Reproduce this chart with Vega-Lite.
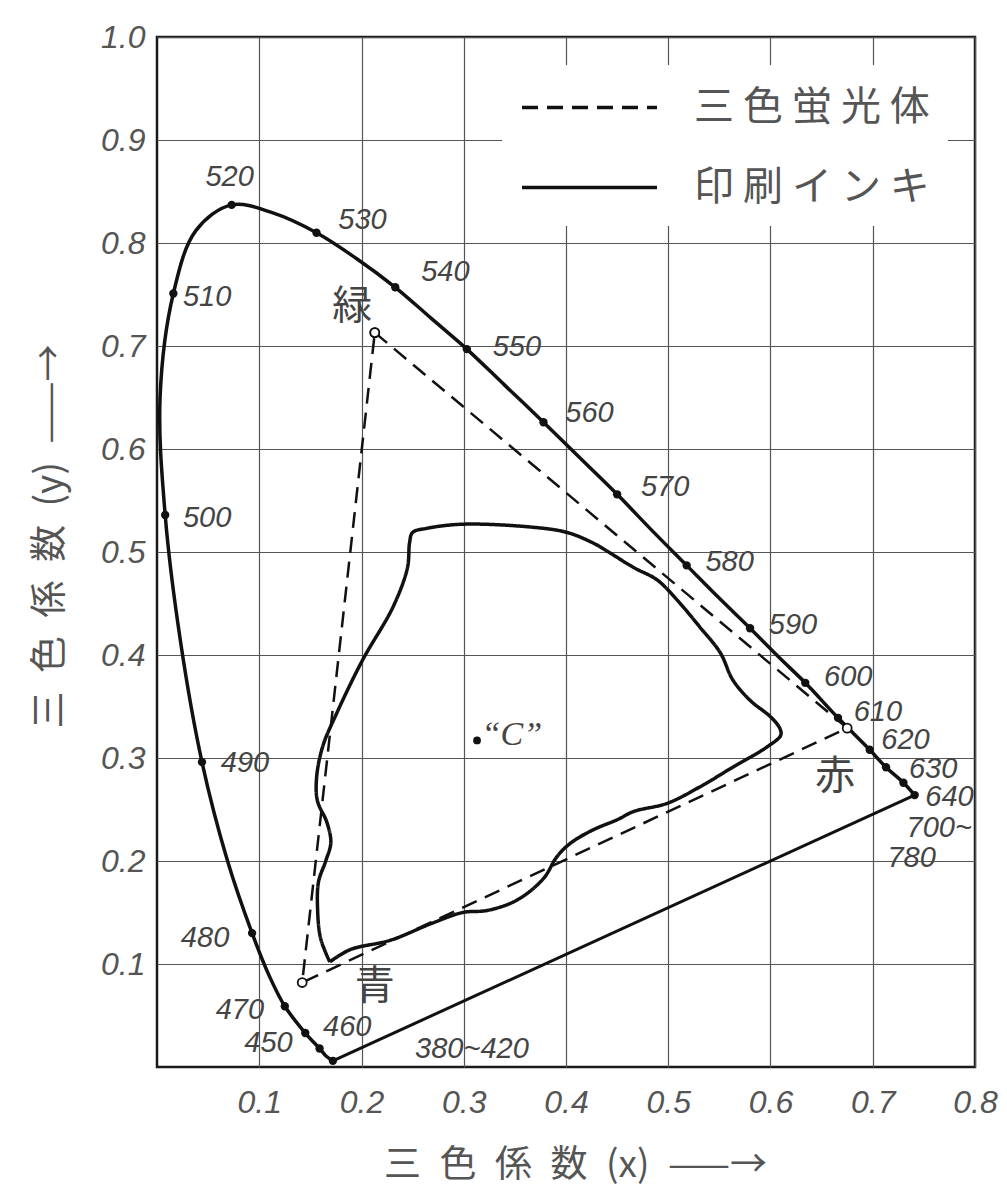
{
  "$schema": "https://vega.github.io/schema/vega-lite/v6.json",
  "width": 818,
  "height": 1030,
  "autosize": {"type": "none"},
  "padding": {"left": 157, "top": 37, "right": 32, "bottom": 133},
  "background": "white",
  "config": {"view": {"stroke": "#1a1a1a", "strokeWidth": 2.5}},
  "datasets": {
    "locus": [
      {"ord": 1, "x": 0.172, "y": 0.006}, {"ord": 2, "x": 0.165, "y": 0.011}, {"ord": 3, "x": 0.159, "y": 0.018},
      {"ord": 4, "x": 0.145, "y": 0.033}, {"ord": 5, "x": 0.125, "y": 0.059}, {"ord": 6, "x": 0.110, "y": 0.088},
      {"ord": 7, "x": 0.093, "y": 0.130}, {"ord": 8, "x": 0.069, "y": 0.200}, {"ord": 9, "x": 0.044, "y": 0.296},
      {"ord": 10, "x": 0.023, "y": 0.413}, {"ord": 11, "x": 0.008, "y": 0.536}, {"ord": 12, "x": 0.003, "y": 0.650},
      {"ord": 13, "x": 0.016, "y": 0.751}, {"ord": 14, "x": 0.038, "y": 0.812}, {"ord": 15, "x": 0.073, "y": 0.837},
      {"ord": 16, "x": 0.114, "y": 0.829}, {"ord": 17, "x": 0.156, "y": 0.810}, {"ord": 18, "x": 0.195, "y": 0.785},
      {"ord": 19, "x": 0.233, "y": 0.757}, {"ord": 20, "x": 0.268, "y": 0.727}, {"ord": 21, "x": 0.303, "y": 0.697},
      {"ord": 22, "x": 0.340, "y": 0.662}, {"ord": 23, "x": 0.378, "y": 0.626}, {"ord": 24, "x": 0.414, "y": 0.591},
      {"ord": 25, "x": 0.450, "y": 0.556}, {"ord": 26, "x": 0.484, "y": 0.521}, {"ord": 27, "x": 0.518, "y": 0.487},
      {"ord": 28, "x": 0.549, "y": 0.456}, {"ord": 29, "x": 0.580, "y": 0.426}, {"ord": 30, "x": 0.608, "y": 0.398},
      {"ord": 31, "x": 0.634, "y": 0.373}, {"ord": 32, "x": 0.666, "y": 0.339}, {"ord": 33, "x": 0.697, "y": 0.308},
      {"ord": 34, "x": 0.713, "y": 0.291}, {"ord": 35, "x": 0.730, "y": 0.276}, {"ord": 36, "x": 0.741, "y": 0.264}
    ],
    "purple": [
      {"ord": 1, "x": 0.741, "y": 0.264}, {"ord": 2, "x": 0.172, "y": 0.006}
    ],
    "dots": [
      {"wl": "380~420", "x": 0.172, "y": 0.006}, {"wl": "450", "x": 0.159, "y": 0.018},
      {"wl": "460", "x": 0.145, "y": 0.033}, {"wl": "470", "x": 0.125, "y": 0.059},
      {"wl": "480", "x": 0.093, "y": 0.130}, {"wl": "490", "x": 0.044, "y": 0.296},
      {"wl": "500", "x": 0.008, "y": 0.536}, {"wl": "510", "x": 0.016, "y": 0.751},
      {"wl": "520", "x": 0.073, "y": 0.837}, {"wl": "530", "x": 0.156, "y": 0.810},
      {"wl": "540", "x": 0.233, "y": 0.757}, {"wl": "550", "x": 0.303, "y": 0.697},
      {"wl": "560", "x": 0.378, "y": 0.626}, {"wl": "570", "x": 0.450, "y": 0.556},
      {"wl": "580", "x": 0.518, "y": 0.487}, {"wl": "590", "x": 0.580, "y": 0.426},
      {"wl": "600", "x": 0.634, "y": 0.373}, {"wl": "610", "x": 0.666, "y": 0.339},
      {"wl": "620", "x": 0.697, "y": 0.308}, {"wl": "630", "x": 0.713, "y": 0.291},
      {"wl": "640", "x": 0.730, "y": 0.276}, {"wl": "700~780", "x": 0.741, "y": 0.264}
    ],
    "wlabels": [
      {"text": "380~420", "x": 0.308, "y": 0.017}, {"text": "450", "x": 0.109, "y": 0.023},
      {"text": "460", "x": 0.186, "y": 0.039}, {"text": "470", "x": 0.081, "y": 0.055},
      {"text": "480", "x": 0.047, "y": 0.125}, {"text": "490", "x": 0.086, "y": 0.295},
      {"text": "500", "x": 0.049, "y": 0.533}, {"text": "510", "x": 0.049, "y": 0.748},
      {"text": "520", "x": 0.071, "y": 0.864}, {"text": "530", "x": 0.201, "y": 0.822},
      {"text": "540", "x": 0.282, "y": 0.772}, {"text": "550", "x": 0.352, "y": 0.699},
      {"text": "560", "x": 0.423, "y": 0.635}, {"text": "570", "x": 0.497, "y": 0.563},
      {"text": "580", "x": 0.560, "y": 0.490}, {"text": "590", "x": 0.622, "y": 0.429},
      {"text": "600", "x": 0.676, "y": 0.379}, {"text": "610", "x": 0.705, "y": 0.345},
      {"text": "620", "x": 0.732, "y": 0.317}, {"text": "630", "x": 0.759, "y": 0.289},
      {"text": "640", "x": 0.775, "y": 0.262}, {"text": "700~", "x": 0.765, "y": 0.232},
      {"text": "780", "x": 0.738, "y": 0.203}
    ],
    "tri": [
      {"series": "三色蛍光体", "ord": 1, "x": 0.213, "y": 0.713},
      {"series": "三色蛍光体", "ord": 2, "x": 0.675, "y": 0.329},
      {"series": "三色蛍光体", "ord": 3, "x": 0.142, "y": 0.082},
      {"series": "三色蛍光体", "ord": 4, "x": 0.213, "y": 0.713}
    ],
    "ink": [
      {"series": "印刷インキ", "ord": 1, "x": 0.169, "y": 0.102},
      {"series": "印刷インキ", "ord": 2, "x": 0.160, "y": 0.125},
      {"series": "印刷インキ", "ord": 3, "x": 0.157, "y": 0.155},
      {"series": "印刷インキ", "ord": 4, "x": 0.158, "y": 0.180},
      {"series": "印刷インキ", "ord": 5, "x": 0.165, "y": 0.200},
      {"series": "印刷インキ", "ord": 6, "x": 0.170, "y": 0.218},
      {"series": "印刷インキ", "ord": 7, "x": 0.166, "y": 0.238},
      {"series": "印刷インキ", "ord": 8, "x": 0.157, "y": 0.258},
      {"series": "印刷インキ", "ord": 9, "x": 0.156, "y": 0.280},
      {"series": "印刷インキ", "ord": 10, "x": 0.162, "y": 0.311},
      {"series": "印刷インキ", "ord": 11, "x": 0.176, "y": 0.344},
      {"series": "印刷インキ", "ord": 12, "x": 0.201, "y": 0.395},
      {"series": "印刷インキ", "ord": 13, "x": 0.231, "y": 0.447},
      {"series": "印刷インキ", "ord": 14, "x": 0.245, "y": 0.485},
      {"series": "印刷インキ", "ord": 15, "x": 0.247, "y": 0.509},
      {"series": "印刷インキ", "ord": 16, "x": 0.250, "y": 0.519},
      {"series": "印刷インキ", "ord": 17, "x": 0.264, "y": 0.523},
      {"series": "印刷インキ", "ord": 18, "x": 0.299, "y": 0.527},
      {"series": "印刷インキ", "ord": 19, "x": 0.368, "y": 0.524},
      {"series": "印刷インキ", "ord": 20, "x": 0.401, "y": 0.519},
      {"series": "印刷インキ", "ord": 21, "x": 0.426, "y": 0.509},
      {"series": "印刷インキ", "ord": 22, "x": 0.440, "y": 0.501},
      {"series": "印刷インキ", "ord": 23, "x": 0.466, "y": 0.485},
      {"series": "印刷インキ", "ord": 24, "x": 0.489, "y": 0.473},
      {"series": "印刷インキ", "ord": 25, "x": 0.509, "y": 0.453},
      {"series": "印刷インキ", "ord": 26, "x": 0.531, "y": 0.427},
      {"series": "印刷インキ", "ord": 27, "x": 0.551, "y": 0.402},
      {"series": "印刷インキ", "ord": 28, "x": 0.563, "y": 0.376},
      {"series": "印刷インキ", "ord": 29, "x": 0.580, "y": 0.356},
      {"series": "印刷インキ", "ord": 30, "x": 0.600, "y": 0.340},
      {"series": "印刷インキ", "ord": 31, "x": 0.609, "y": 0.329},
      {"series": "印刷インキ", "ord": 32, "x": 0.610, "y": 0.322},
      {"series": "印刷インキ", "ord": 33, "x": 0.597, "y": 0.311},
      {"series": "印刷インキ", "ord": 34, "x": 0.563, "y": 0.291},
      {"series": "印刷インキ", "ord": 35, "x": 0.531, "y": 0.272},
      {"series": "印刷インキ", "ord": 36, "x": 0.499, "y": 0.256},
      {"series": "印刷インキ", "ord": 37, "x": 0.466, "y": 0.248},
      {"series": "印刷インキ", "ord": 38, "x": 0.450, "y": 0.240},
      {"series": "印刷インキ", "ord": 39, "x": 0.426, "y": 0.230},
      {"series": "印刷インキ", "ord": 40, "x": 0.404, "y": 0.217},
      {"series": "印刷インキ", "ord": 41, "x": 0.391, "y": 0.204},
      {"series": "印刷インキ", "ord": 42, "x": 0.378, "y": 0.183},
      {"series": "印刷インキ", "ord": 43, "x": 0.352, "y": 0.162},
      {"series": "印刷インキ", "ord": 44, "x": 0.323, "y": 0.152},
      {"series": "印刷インキ", "ord": 45, "x": 0.299, "y": 0.150},
      {"series": "印刷インキ", "ord": 46, "x": 0.270, "y": 0.140},
      {"series": "印刷インキ", "ord": 47, "x": 0.228, "y": 0.123},
      {"series": "印刷インキ", "ord": 48, "x": 0.189, "y": 0.114},
      {"series": "印刷インキ", "ord": 49, "x": 0.169, "y": 0.102}
    ],
    "names": [
      {"text": "緑", "x": 0.191, "y": 0.738},
      {"text": "青", "x": 0.213, "y": 0.078},
      {"text": "赤", "x": 0.663, "y": 0.282}
    ],
    "cpoint": [{"x": 0.313, "y": 0.317}],
    "clabel": [{"text": "“C”", "x": 0.347, "y": 0.322}]
  },
  "encoding": {
    "x": {
      "field": "x", "type": "quantitative",
      "scale": {"domain": [0, 0.8], "nice": false, "zero": false},
      "axis": {
        "values": [0.1, 0.2, 0.3, 0.4, 0.5, 0.6, 0.7, 0.8], "format": ".1f",
        "grid": true, "gridColor": "#555", "gridWidth": 1.2, "ticks": false, "domain": false,
        "labelFont": "Liberation Sans", "labelFontStyle": "italic", "labelFontSize": 32,
        "labelColor": "#555", "labelPadding": 20, "labelFlush": false, "labelOverlap": false,
        "title": "三\u2002色\u2002係\u2002数\u2002(x)\u2002——→", "titleFont": "Noto Sans CJK JP", "titleFontSize": 37,
        "titleFontWeight": "normal", "titleColor": "#555", "titleX": 418, "titleY": 98,
        "titleBaseline": "middle", "titleAlign": "center"
      }
    },
    "y": {
      "field": "y", "type": "quantitative",
      "scale": {"domain": [0, 1], "nice": false, "zero": false},
      "axis": {
        "values": [0.1, 0.2, 0.3, 0.4, 0.5, 0.6, 0.7, 0.8, 0.9, 1.0], "format": ".1f",
        "grid": true, "gridColor": "#555", "gridWidth": 1.2, "ticks": false, "domain": false,
        "labelFont": "Liberation Sans", "labelFontStyle": "italic", "labelFontSize": 32,
        "labelColor": "#555", "labelPadding": 12, "labelFlush": false, "labelOverlap": false,
        "title": "三\u2002色\u2002係\u2002数\u2002(y)\u2002——→", "titleFont": "Noto Sans CJK JP", "titleFontSize": 37,
        "titleFontWeight": "normal", "titleColor": "#555", "titleX": -107, "titleY": 499,
        "titleBaseline": "middle", "titleAlign": "center", "titleAngle": -90
      }
    }
  },
  "layer": [
    {
      "data": {"name": "tri"},
      "mark": {"type": "line", "color": "#111", "strokeWidth": 2.5},
      "encoding": {
        "order": {"field": "ord", "type": "quantitative"},
        "strokeDash": {
          "field": "series", "type": "nominal",
          "scale": {"domain": ["三色蛍光体", "印刷インキ"], "range": [[16, 9], [1, 0]]},
          "legend": {
            "orient": "none", "legendX": 345, "legendY": 28, "fillColor": "white", "padding": 18,
            "title": null, "symbolType": "M-1,0H5", "symbolSize": 2025, "symbolStrokeWidth": 3.5,
            "symbolStrokeColor": "#111", "labelFont": "Noto Sans CJK JP", "labelFontSize": 40,
            "labelColor": "#555", "labelOffset": 125, "rowPadding": 35, "labelLimit": 400,
            "labelExpr": "join(split(datum.label, ''), ' ')"
          }
        }
      }
    },
    {
      "data": {"name": "ink"},
      "mark": {"type": "line", "color": "#111", "strokeWidth": 3.5, "interpolate": "catmull-rom"},
      "encoding": {
        "order": {"field": "ord", "type": "quantitative"},
        "strokeDash": {"field": "series", "type": "nominal"}
      }
    },
    {
      "data": {"name": "locus"},
      "mark": {"type": "line", "color": "#111", "strokeWidth": 3.5, "interpolate": "catmull-rom"},
      "encoding": {"order": {"field": "ord", "type": "quantitative"}}
    },
    {
      "data": {"name": "purple"},
      "mark": {"type": "line", "color": "#111", "strokeWidth": 3},
      "encoding": {"order": {"field": "ord", "type": "quantitative"}}
    },
    {
      "data": {"name": "dots"},
      "mark": {"type": "point", "filled": true, "color": "#111", "size": 70, "opacity": 1}
    },
    {
      "data": {"name": "tri"},
      "mark": {"type": "point", "filled": true, "fill": "white", "stroke": "#111", "strokeWidth": 1.8, "size": 80, "opacity": 1}
    },
    {
      "data": {"name": "wlabels"},
      "mark": {"type": "text", "font": "Liberation Sans", "fontStyle": "italic", "fontSize": 29, "color": "#444", "align": "center", "baseline": "middle"},
      "encoding": {"text": {"field": "text", "type": "nominal"}}
    },
    {
      "data": {"name": "names"},
      "mark": {"type": "text", "font": "Noto Sans CJK JP", "fontSize": 40, "color": "#444", "align": "center", "baseline": "middle"},
      "encoding": {"text": {"field": "text", "type": "nominal"}}
    },
    {
      "data": {"name": "cpoint"},
      "mark": {"type": "point", "filled": true, "color": "#111", "size": 60, "opacity": 1}
    },
    {
      "data": {"name": "clabel"},
      "mark": {"type": "text", "font": "Liberation Serif", "fontStyle": "italic", "fontSize": 34, "color": "#444", "align": "center", "baseline": "middle"},
      "encoding": {"text": {"field": "text", "type": "nominal"}}
    }
  ]
}
